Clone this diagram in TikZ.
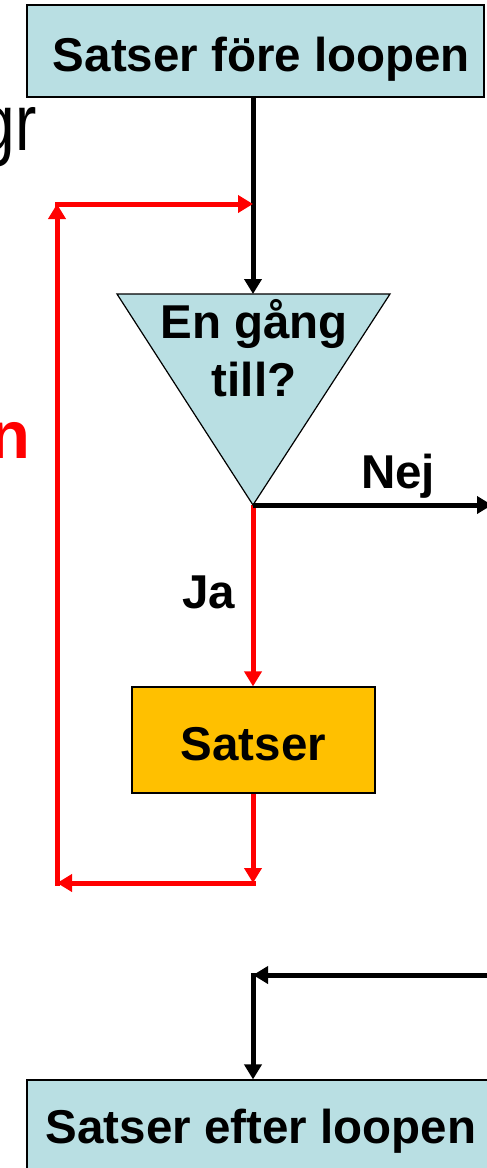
\documentclass[tikz,border=0pt]{standalone}
\usepackage{fontspec}
\setmainfont{Liberation Sans}
\usetikzlibrary{arrows.meta}
\definecolor{boxblue}{RGB}{185,223,227}
\definecolor{boxorange}{RGB}{255,192,0}
\definecolor{loopred}{RGB}{255,0,0}
\begin{document}
\begin{tikzpicture}[x=1pt,y=-1pt,
  bigtxt/.style={font=\fontsize{47.5}{58}\selectfont\bfseries},
  flowbox/.style={draw=black, line width=1.2pt, rectangle, inner sep=0pt, text height=40pt, text depth=0pt, bigtxt},
  blk/.style={line width=5pt, draw=black, -{Triangle[length=15pt,width=17pt]}},
  redarr/.style={line width=5pt, draw=loopred, -{Triangle[length=15pt,width=17pt]}},
  lbl/.style={bigtxt, inner sep=0pt, anchor=base west},
]
\useasboundingbox (0,0) rectangle (487,1168);
% boxes
\node[flowbox, fill=boxblue, minimum width=457pt, minimum height=92pt] (top) at (255.5,51) {\hspace*{12pt}Satser före loopen};
\node[flowbox, fill=boxorange, minimum width=243pt, minimum height=106pt] (satser) at (253.5,740) {Satser};
\node[flowbox, fill=boxblue, minimum width=468pt, minimum height=92pt, text height=34pt] (bottom) at (261,1126) {Satser efter loopen};
% coordinates
\coordinate (triTL) at (117,294);
\coordinate (triTR) at (390,294);
\coordinate (triTop) at (253,294);
\coordinate (apex) at (253,505);
\coordinate (join) at (253,204);
\coordinate (loopTL) at (57,204);
\coordinate (loopBL) at (57,883);
\coordinate (loopBR) at (253,883);
\coordinate (nejEnd) at (492,505);
\coordinate (backIn) at (500,975);
\coordinate (corner) at (253,975);
% red yes branch (under the triangle)
\draw[redarr] (apex) -- (satser.north -| apex);
% decision triangle
\draw[line width=1.2pt, fill=boxblue, line join=miter] (triTL) -- (triTR) -- (apex) -- cycle;
\node[bigtxt, align=center, inner sep=0pt] (cond) at (254,348) {En gång\\till?};
% black flow
\draw[blk] (top.south -| triTop) -- (triTop);
\draw[blk] (apex) -- (nejEnd);
\draw[blk] (backIn) -- (corner);
\draw[blk, line cap=rect] (corner) -- (bottom.north -| corner);
% red loop
\draw[redarr] (satser.south -| loopBR) -- (loopBR);
\draw[redarr, line cap=rect] (loopBR) -- (loopBL);
\draw[redarr, line cap=rect] (loopBL) -- (loopTL);
\draw[redarr, line cap=rect] (loopTL) -- (join);
% labels
\node[lbl] (nej) at (361,488) {Nej};
\node[lbl] (ja) at (182,608) {Ja};
\node[font=\fontsize{80}{90}\selectfont, anchor=base east, inner sep=0pt] (gr) at (37,150) {\scalebox{0.8}[1]{gr}};
\node[font=\fontsize{67}{75}\selectfont\bfseries, text=loopred, anchor=base east, inner sep=0pt] (n) at (31,458) {n};
\end{tikzpicture}
\end{document}
